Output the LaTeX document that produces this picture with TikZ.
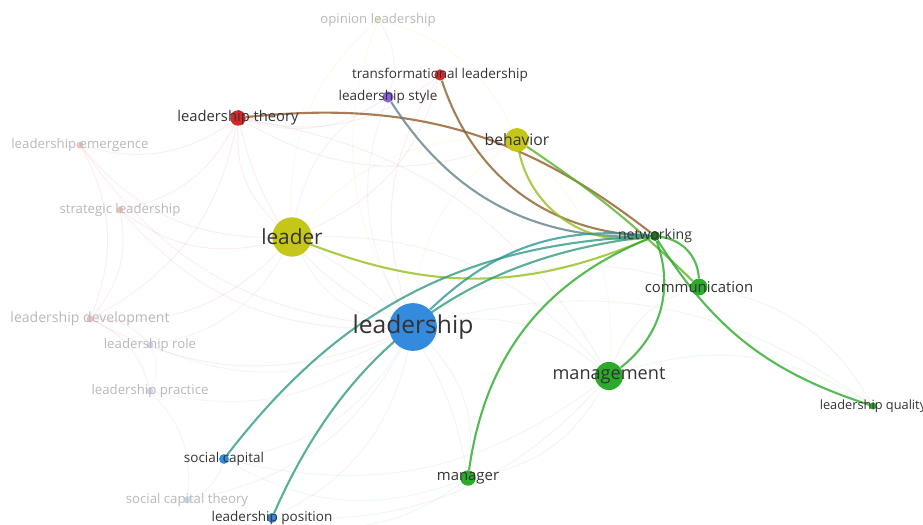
\documentclass[tikz,border=0pt]{standalone}
\usepackage{fontspec}
\setmainfont{Open Sans}
\usetikzlibrary{positioning}
\usetikzlibrary{backgrounds}
\definecolor{vos-red}{RGB}{214, 40, 40}
\definecolor{vos-green}{RGB}{44, 170, 44}
\definecolor{vos-blue}{RGB}{52, 138, 220}
\definecolor{vos-yellow}{RGB}{196, 198, 24}
\definecolor{vos-purple}{RGB}{138, 98, 214}
\newcommand{\kwsize}[1]{\fontsize{#1}{#1}\selectfont}

\begin{document}
\begin{tikzpicture}[x=0.025cm, y=-0.025cm,
    kw/.style={circle, inner sep=0pt},
    lab/.style={font=\kwsize{9.6}, text=black!80},
    faded/.style={font=\kwsize{9.4}, text=black!28},
    link/.style={line width=1.5pt, opacity=0.8},
    faint/.style={line width=0.7pt, opacity=0.08}]
    \useasboundingbox (0,0) rectangle (923,525);
    \node[kw, fill=vos-blue, minimum size=34pt] (lship) at (413,327) {};
    \node[kw, fill=vos-yellow, minimum size=28pt] (leader) at (292,237) {};
    \node[kw, fill=vos-green, minimum size=20pt] (mgmt) at (609,376) {};
    \node[kw, fill=vos-yellow, minimum size=17pt] (behav) at (517,140) {};
    \node[kw, fill=vos-green, minimum size=12pt] (comm) at (699,287) {};
    \node[kw, fill=vos-green, minimum size=11pt] (mgr) at (468,478) {};
    \node[kw, fill=vos-red, minimum size=11pt] (ltheory) at (238,118) {};
    \node[kw, fill=vos-red, minimum size=8pt] (tleader) at (440,75) {};
    \node[kw, fill=vos-purple, minimum size=8pt] (lstyle) at (388,97) {};
    \node[kw, fill=vos-green!70!black, minimum size=7pt] (netw) at (655,236) {};
    \node[kw, fill=vos-blue, minimum size=7pt] (scap) at (224,459) {};
    \node[kw, fill=vos-blue, minimum size=7pt] (lpos) at (272,518) {};
    \node[kw, fill=vos-green, minimum size=5pt] (lquality) at (873,406) {};
    \node[kw, fill=vos-yellow, fill opacity=0.3, minimum size=5pt] (opinion) at (378,20) {};
    \node[kw, fill=vos-red, fill opacity=0.3, minimum size=5pt] (lemerg) at (80,145) {};
    \node[kw, fill=vos-red, fill opacity=0.3, minimum size=5pt] (strat) at (120,210) {};
    \node[kw, fill=vos-red, fill opacity=0.3, minimum size=5pt] (ldev) at (90,319) {};
    \node[kw, fill=vos-purple, fill opacity=0.3, minimum size=5pt] (lrole) at (150,345) {};
    \node[kw, fill=vos-purple, fill opacity=0.3, minimum size=5pt] (lpract) at (150,391) {};
    \node[kw, fill=vos-blue, fill opacity=0.3, minimum size=5pt] (sctheory) at (187,500) {};

    \node[lab, font=\kwsize{17.5}] at (lship) {leadership};
    \node[lab, font=\kwsize{14.8}] at (leader) {leader};
    \node[lab, font=\kwsize{12.9}] at (mgmt) {management};
    \node[lab, font=\kwsize{11.2}] at (behav) {behavior};
    \node[lab, font=\kwsize{10.6}] at (comm) {communication};
    \node[lab, font=\kwsize{10.6}] at (mgr) {manager};
    \node[lab, font=\kwsize{10.5}] at (ltheory) {leadership theory};
    \node[lab] at (tleader) {transformational leadership};
    \node[lab] at (lstyle) {leadership style};
    \node[lab, font=\kwsize{10}] at (netw) {networking};
    \node[lab] at (scap) {social capital};
    \node[lab] at (lpos) {leadership position};
    \node[lab, font=\kwsize{9.1}] at (lquality) {leadership quality};
    \node[faded] at (opinion) {opinion leadership};
    \node[faded] at (lemerg) {leadership emergence};
    \node[faded] at (strat) {strategic leadership};
    \node[faded, font=\kwsize{10}] at (ldev) {leadership development};
    \node[faded] at (lrole) {leadership role};
    \node[faded] at (lpract) {leadership practice};
    \node[faded] at (sctheory) {social capital theory};

    \begin{scope}[on background layer]
        \foreach \a/\b/\c in {lship/leader/vos-blue, lship/ltheory/vos-red, lship/mgmt/vos-green,
            lship/mgr/vos-green, lship/scap/vos-blue, lship/lpos/vos-blue, lship/comm/vos-green,
            lship/behav/vos-yellow, lship/lstyle/vos-purple, lship/tleader/vos-red, lship/ldev/vos-red,
            lship/lrole/vos-purple, lship/lpract/vos-purple, lship/strat/vos-red, lship/lemerg/vos-red,
            lship/opinion/vos-yellow, lship/sctheory/vos-blue, lship/lquality/vos-green,
            leader/ltheory/vos-red, leader/behav/vos-yellow, leader/mgmt/vos-green, leader/mgr/vos-green,
            leader/strat/vos-red, leader/lemerg/vos-red, leader/ldev/vos-red, leader/lrole/vos-purple,
            leader/opinion/vos-yellow, leader/lstyle/vos-purple, ltheory/lemerg/vos-red,
            ltheory/strat/vos-red, ltheory/ldev/vos-red, ltheory/mgmt/vos-red, mgmt/mgr/vos-green,
            mgmt/lquality/vos-green, mgmt/comm/vos-green, mgmt/scap/vos-blue, mgr/scap/vos-blue,
            mgr/lpos/vos-blue, mgmt/lpos/vos-green, ldev/lrole/vos-red, ldev/lpract/vos-red,
            lpract/sctheory/vos-blue, scap/sctheory/vos-blue, lemerg/ldev/vos-red, strat/ldev/vos-red,
            opinion/behav/vos-yellow, opinion/lstyle/vos-purple, behav/mgmt/vos-yellow,
            tleader/ltheory/vos-red, tleader/leader/vos-red, comm/lquality/vos-green,
            behav/ltheory/vos-red, lstyle/ltheory/vos-purple, lrole/lpract/vos-purple}
            \draw[faint, \c] (\a) to[bend left=25] (\b);

        \draw[link, vos-red!60!vos-green] (ltheory) to[bend left=22] (netw);
        \draw[link, vos-red!55!vos-green] (tleader) to[bend right=35] (netw);
        \draw[link, vos-purple!55!vos-green] (lstyle) to[bend right=30] (netw);
        \draw[link, vos-yellow!70!vos-green] (behav) to[bend right=45] (netw);
        \draw[link, vos-yellow!30!vos-green] (behav) to[bend left=5] (comm);
        \draw[link, vos-yellow!70!vos-green] (leader) to[bend right=22] (netw);
        \draw[link, vos-blue!60!vos-green] (lship) to[bend left=25] (netw);
        \draw[link, vos-blue!45!vos-green] (lpos) to[bend left=30] (netw);
        \draw[link, vos-blue!50!vos-green] (scap) to[bend left=25] (netw);
        \draw[link, vos-green] (mgr) to[bend left=30] (netw);
        \draw[link, vos-green] (mgmt) to[bend right=36] (netw);
        \draw[link, vos-green] (netw) to[bend left=40] (comm);
        \draw[link, vos-green] (netw) to[bend right=20] (lquality);
    \end{scope}
\end{tikzpicture}
\end{document}
